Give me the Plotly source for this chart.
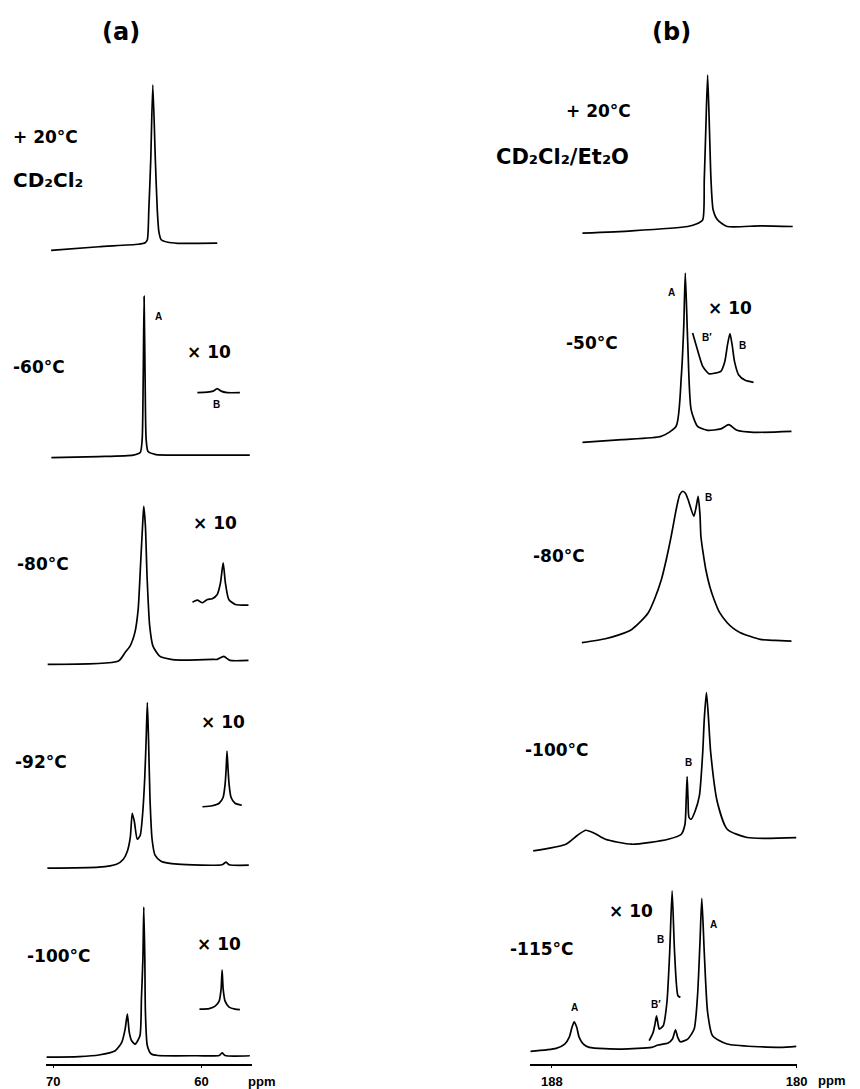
import plotly.graph_objects as go

W, H = 860, 1089

# ---------------- (a) CD2Cl2 spectra: chemical shift (ppm) and intensity (arb.) -------------
a_p20_ppm = [70.15, 66.93, 64.27, 63.80, 63.65, 63.55, 63.42, 63.28, 63.11, 62.98, 62.87, 62.71, 62.27, 61.60, 60.27, 58.93]
a_p20_int = [-5.7, -2, 0.5, 2, 5, 35, 85, 160, 85, 35, 13, 5, 2.5, 1.5, 1.5, 1.7]

a_m60_ppm = [70.13, 66.93, 64.6, 64.13, 64.0, 63.93, 63.87, 63.8, 63.73, 63.6, 63.07, 61.6, 58.93, 56.73]
a_m60_int = [-3, -2, -0.5, 2, 15, 75, 158.3, 75, 15, 3, 0, -0.5, -0.5, -0.5]
a_m60_x10_ppm = [60.27, 59.6, 59.2, 58.93, 58.67, 58.27, 57.4]
a_m60_x10_int = [0, 0.5, 1.5, 4, 1.5, 0, 0]

a_m80_ppm = [70.38, 65.6, 65.15, 64.82, 64.49, 64.27, 64.09, 63.95, 63.89, 63.78, 63.67, 63.49, 63.27,
             62.82, 62.05, 61.4, 60.27, 59.27, 58.93, 58.49, 58.07, 56.82]
a_m80_int = [-4, -0.7, 8, 14.3, 28, 51, 101, 141, 154.3, 134.3, 84.3, 34.3, 14.3,
             4.3, 1, 0.3, 0.5, 1, 1, 4, 0, 0]
a_m80_x10_ppm = [60.6, 60.27, 59.93, 59.6, 59.27, 58.93, 58.71, 58.53, 58.38, 58.15, 57.71, 56.82]
a_m80_x10_int = [2.3, 4.3, 1.7, 5, 5.7, 10, 21.7, 41.7, 21.7, 5, 0, -0.7]

a_m92_ppm = [70.4, 66.93, 65.73, 65.27, 65.0, 64.8, 64.67, 64.53, 64.33, 64.13, 63.97, 63.83, 63.73, 63.65,
             63.57, 63.47, 63.33, 63.13, 62.73, 61.6, 58.6, 58.33, 58.13, 56.8]
a_m92_int = [-3, -2, 1, 6, 14, 28, 52, 44, 26, 30, 51, 86, 126, 162.7,
             126, 66, 26, 10, 4, 1, 0.5, 3, 0.5, 0]
a_m92_x10_ppm = [59.93, 59.27, 58.8, 58.53, 58.4, 58.33, 58.27, 58.2, 58.13, 58.0, 57.73, 57.27]
a_m92_x10_int = [-0.5, 0.5, 3, 9, 22, 37, 55.3, 37, 22, 9, 3, 1]

a_m100_ppm = [70.47, 68.27, 66.93, 65.82, 65.38, 65.15, 65.0, 64.87, 64.71, 64.47, 64.15, 64.05, 63.95,
              63.89, 63.82, 63.78, 63.65, 63.38, 62.93, 60.27, 58.8, 58.6, 58.4, 56.73]
a_m100_int = [-1.3, -0.8, 0.7, 5, 13.4, 26.7, 41.7, 23.4, 15, 11.7, 20, 56.7, 96.7,
              148.7, 96.7, 43.7, 10, 1.7, 0.2, 0, 0.2, 3, 0.2, 0]
a_m100_x10_ppm = [60.13, 59.47, 59.07, 58.8, 58.67, 58.6, 58.53, 58.4, 58.13, 57.73, 57.4]
a_m100_x10_int = [0, 0.5, 3, 8, 20, 39, 20, 8, 2, 0, -0.5]

# ---------------- (b) CD2Cl2/Et2O spectra ----------------
b_p20_ppm = [187.0, 185.39, 183.56, 183.26, 183.07, 183.02, 182.97, 182.91, 182.85, 182.80, 182.73,
             182.59, 182.27, 181.19, 180.13]
b_p20_int = [-6.6, -4.3, 0, 2.7, 6.7, 46.7, 96.7, 151.7, 96.7, 46.7, 16.7, 6.7, 0, 0.7, 0]

b_m50_ppm = [187.0, 185.71, 184.42, 183.94, 183.77, 183.69, 183.64, 183.56, 183.45, 183.24, 182.91,
             182.48, 182.22, 181.95, 181.41, 180.17]
b_m50_int = [-11, -8.3, -5, 5, 55, 105, 158.4, 88.7, 21.7, 5, 1, 2.4, 6.7, 1, -1, 0]
b_m50_x10_ppm = [183.4, 183.29, 183.07, 182.87, 182.68, 182.48, 182.35, 182.26, 182.18, 182.11, 182.03,
                 181.9, 181.68, 181.41]
b_m50_x10_int = [41.7, 30, 8.3, 1, 1.5, 3.3, 13, 30, 41, 30, 13, 0, -5.7, -7.7]

b_m80_ppm = [187.02, 186.25, 185.81, 185.39, 185.13, 184.85, 184.65, 184.42, 184.26, 184.1, 183.97, 183.88,
             183.82, 183.72, 183.63, 183.55, 183.36, 183.27, 183.22, 183.16, 183.13, 183.05, 182.97,
             182.84, 182.7, 182.52, 182.27, 182.07, 181.84, 181.19, 180.71, 180.17]
b_m80_int = [-1.6, 2.4, 6.2, 11.7, 18.7, 28.4, 41.7, 61.7, 81.7, 105, 126.7, 140,
             146.7, 150, 147.7, 141.7, 125, 136.7, 145, 126.7, 105, 86.7, 71.7,
             54.7, 41.7, 28.7, 18.4, 12.7, 8.4, 1.7, 0.7, 0]

b_m100_ppm = [188.61, 187.54, 187.16, 186.89, 186.61, 186.25, 185.39, 184.2, 183.77, 183.65, 183.61, 183.58,
              183.55, 183.52, 183.45, 183.32, 183.18, 183.07, 183.02, 182.95, 182.89, 182.81, 182.59,
              182.27, 181.62, 180.01]
b_m100_int = [-13.4, -6.7, 2.3, 7.3, 4.3, -1.7, -6.7, -1.7, 3.3, 13.3, 38.3, 61,
              38.3, 20.3, 18.3, 26.3, 41.6, 85.3, 118.3, 145, 123.3, 85.3, 35, 8.3, 0, 0]

b_m115_ppm = [188.7, 187.86, 187.58, 187.43, 187.34, 187.27, 187.19, 187.11, 186.97, 186.78, 185.71, 184.74,
              184.53, 184.2, 184.06, 183.96, 183.89, 183.8, 183.56, 183.35, 183.24, 183.16, 183.1,
              183.02, 182.91, 182.75, 182.27, 180.55, 180.01]
b_m115_int = [-4, -1, 3.3, 10.3, 20.3, 25.6, 20.3, 10.3, 3.3, 0, -1.7, 0,
              2.3, 4.3, 8.3, 17.6, 10.3, 5.6, 8.3, 18.3, 51.6, 105, 149,
              95, 35, 11.6, 3.3, 0, 1]
b_m115_x10_ppm = [184.82, 184.69, 184.63, 184.58, 184.53, 184.49, 184.36, 184.24, 184.15, 184.07, 183.99,
                  183.88, 183.8]
b_m115_x10_int = [0, 8.4, 16.7, 25, 16.7, 11.7, 15, 38.4, 88.4, 150, 88.4, 45, 43.4]

a_ticks = [70, 60]
b_ticks = [188, 180]

# ---------------- layout: baseline (pixel row) of each trace ----------------
traces = [
    (a_p20_ppm, a_p20_int, 'x', 245),
    (a_m60_ppm, a_m60_int, 'x', 455),
    (a_m60_x10_ppm, a_m60_x10_int, 'x', 393),
    (a_m80_ppm, a_m80_int, 'x', 661),
    (a_m80_x10_ppm, a_m80_x10_int, 'x', 605),
    (a_m92_ppm, a_m92_int, 'x', 866),
    (a_m92_x10_ppm, a_m92_x10_int, 'x', 807),
    (a_m100_ppm, a_m100_int, 'x', 1056.7),
    (a_m100_x10_ppm, a_m100_x10_int, 'x', 1010),
    (b_p20_ppm, b_p20_int, 'x2', 226.7),
    (b_m50_ppm, b_m50_int, 'x2', 431.7),
    (b_m50_x10_ppm, b_m50_x10_int, 'x2', 375),
    (b_m80_ppm, b_m80_int, 'x2', 641.7),
    (b_m100_ppm, b_m100_int, 'x2', 838.3),
    (b_m115_ppm, b_m115_int, 'x2', 1048.3),
    (b_m115_x10_ppm, b_m115_x10_int, 'x2', 1041.7),
]

fig = go.Figure()
for ppm, inten, xa, base in traces:
    fig.add_trace(go.Scatter(
        x=ppm, y=[(H - base) + v for v in inten], xaxis=xa, yaxis='y',
        mode='lines', line=dict(color='black', width=1.7, shape='spline', smoothing=0.6),
        hoverinfo='skip', showlegend=False))

LBL = dict(family='DejaVu Sans', color='black')
SML = dict(family='Liberation Sans', color='black')
ann = []


def t(text, px, py, size, font=LBL, weight='bold'):
    ann.append(dict(text=text, x=px / W, y=1 - py / H, xref='paper', yref='paper',
                    xanchor='center', yanchor='middle', showarrow=False,
                    font=dict(size=size, weight=weight, **font)))


# panel (a)
t('(a)', 123, 32, 24)
t('+ 20°C', 46, 137, 17)
t('CD₂Cl₂', 49, 180, 20)
t('-60°C', 40, 367, 17)
t('A', 161, 317, 10, SML)
t('× 10', 212, 352, 17)
t('B', 219, 405, 10, SML)
t('-80°C', 44, 565, 17)
t('× 10', 218, 523, 17)
t('-92°C', 42, 763, 17)
t('× 10', 226, 723, 17)
t('-100°C', 60, 957, 17)
t('× 10', 222, 945, 17)
t('ppm', 265, 1082, 13, SML)

# panel (b)
t('(b)', 680, 32, 24)
t('+ 20°C', 606, 111, 17)
t('CD₂Cl₂/Et₂O', 570, 157, 21)
t('-50°C', 600, 343, 17)
t('A', 680, 293, 10, SML)
t('× 10', 739, 308, 17)
t('B′', 716, 338, 10, SML)
t('B', 752, 346, 10, SML)
t('-80°C', 566, 557, 17)
t('B', 718, 498, 10, SML)
t('-100°C', 564, 751, 17)
t('B', 697, 763, 10, SML)
t('-115°C', 549, 950, 17)
t('× 10', 639, 912, 17)
t('B', 669, 940, 10, SML)
t('B′', 664, 1005, 10, SML)
t('A', 723, 925, 10, SML)
t('A', 582, 1008, 10, SML)
t('ppm', 842, 1081, 13, SML)

axis_common = dict(showline=True, linecolor='black', linewidth=1.5, showgrid=False, zeroline=False,
                   ticks='outside', ticklen=3, tickcolor='black', tickwidth=1.2,
                   tickfont=dict(family='Liberation Sans', size=13, color='black', weight='bold'),
                   anchor='free', position=(H - 1065.7) / H, ticklabelstandoff=2)

fig.update_layout(
    width=W, height=H, margin=dict(l=0, r=0, t=0, b=0),
    paper_bgcolor='white', plot_bgcolor='white',
    xaxis=dict(domain=[47 / W, 255 / W], range=[70.467, 56.6], tickvals=a_ticks, **axis_common),
    xaxis2=dict(domain=[537 / W, 807 / W], range=[188.71, 180.0], tickvals=b_ticks, **axis_common),
    yaxis=dict(domain=[0, 1], range=[0, H], visible=False, anchor='free', position=0),
    annotations=ann,
)

fig.write_html('out.html')
